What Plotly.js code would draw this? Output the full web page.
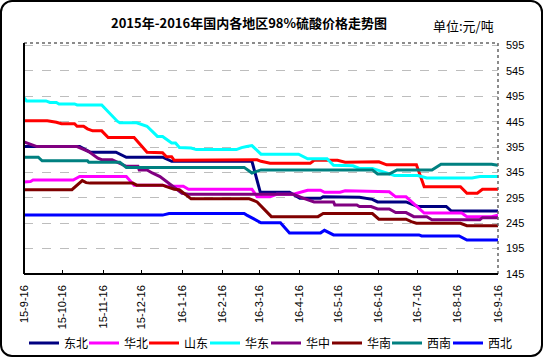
<!DOCTYPE html>
<html>
<head>
<meta charset="utf-8">
<script src="https://cdn.plot.ly/plotly-3.0.1.min.js"></script>
<style>
html,body{margin:0;padding:0;background:#fff;}
#wrap{position:relative;width:543px;height:357px;}
#chart{position:absolute;left:0;top:0;width:543px;height:357px;}
#frame{position:absolute;left:0;top:0;width:543px;height:357px;box-sizing:border-box;border:2px solid #000;border-radius:12px;pointer-events:none;}
</style>
</head>
<body>
<div id="wrap"><div id="chart"></div><div id="frame"></div></div>
<script>
// ---- data ----
const seriesNames = ['东北','华北','山东','华东','华中','华南','西南','西北'];
const seriesColors = ['#000080','#FF00FF','#FF0000','#00FFFF','#800080','#800000','#008080','#0000FF'];

const dongbeiDates = ['2015-09-16','2015-10-29','2015-11-06','2015-11-26','2015-12-04','2016-01-01','2016-01-08','2016-03-10','2016-03-17','2016-03-18','2016-04-08','2016-04-16','2016-05-02','2016-05-04','2016-06-01','2016-06-11','2016-06-15','2016-07-07','2016-07-16','2016-08-07','2016-08-11','2016-09-16'];
const dongbeiValues = [396,396,385,385,375,375,367,367,301,306,306,294,294,297,296,292,287,287,278,278,269,269];

const huabeiDates = ['2015-09-16','2015-09-21','2015-09-23','2015-10-24','2015-10-29','2015-12-04','2015-12-10','2016-01-01','2016-01-04','2016-01-17','2016-01-21','2016-03-10','2016-03-14','2016-03-24','2016-03-29','2016-04-11','2016-04-22','2016-05-02','2016-05-05','2016-05-17','2016-05-21','2016-06-24','2016-06-29','2016-07-07','2016-07-21','2016-08-19','2016-08-23','2016-09-11','2016-09-16'];
const huabeiValues = [326,327,330,330,337,337,320,320,318,318,312,312,297,297,302,302,310,310,306,306,309,307,297,297,265,265,258,258,261];

const shandongDates = ['2015-09-16','2015-10-04','2015-10-11','2015-10-15','2015-10-25','2015-10-27','2015-11-01','2015-11-04','2015-11-08','2015-11-15','2015-11-20','2015-12-10','2015-12-20','2016-01-01','2016-01-04','2016-01-08','2016-01-10','2016-02-12','2016-03-14','2016-03-17','2016-03-24','2016-04-24','2016-04-27','2016-05-15','2016-05-21','2016-06-16','2016-06-22','2016-07-15','2016-07-21','2016-08-18','2016-08-23','2016-08-31','2016-09-04','2016-09-16'];
const shandongValues = [447,447,444,441,441,436,436,431,427,427,414,414,385,384,376,376,369,370,370,367,363,363,369,369,365,366,360,360,317,317,304,304,312,312];

const huadongDates = ['2015-09-16','2015-09-18','2015-10-03','2015-10-06','2015-10-11','2015-10-13','2015-10-25','2015-10-27','2015-11-15','2015-11-27','2015-11-29','2015-12-12','2015-12-20','2015-12-28','2016-01-01','2016-01-08','2016-01-11','2016-01-14','2016-01-23','2016-01-27','2016-02-27','2016-03-02','2016-03-06','2016-03-10','2016-03-17','2016-04-15','2016-04-22','2016-05-07','2016-05-12','2016-05-27','2016-06-01','2016-06-11','2016-06-28','2016-07-16','2016-07-23','2016-08-27','2016-09-02','2016-09-16'];
const huadongValues = [492,486,486,483,483,480,480,478,478,446,443,443,436,416,416,403,403,394,393,390,390,394,396,398,381,381,372,372,359,358,353,353,339,339,334,334,337,337];

const huazhongDates = ['2015-09-16','2015-09-23','2015-09-26','2015-10-27','2015-11-05','2015-11-12','2015-11-15','2015-11-23','2015-12-01','2015-12-04','2015-12-13','2015-12-14','2015-12-20','2015-12-24','2015-12-30','2016-01-04','2016-01-11','2016-01-16','2016-01-21','2016-04-11','2016-04-19','2016-04-27','2016-05-12','2016-05-13','2016-05-30','2016-06-01','2016-06-10','2016-06-15','2016-06-24','2016-06-29','2016-07-07','2016-07-13','2016-07-23','2016-07-27','2016-09-02','2016-09-04','2016-09-16'];
const huazhongValues = [405,398,396,396,386,373,370,370,360,357,357,350,350,344,337,327,314,304,302,302,294,287,287,281,281,278,278,273,273,266,266,258,258,252,252,256,256];

const huananDates = ['2015-09-16','2015-10-23','2015-10-31','2015-11-03','2015-11-06','2015-12-09','2015-12-12','2016-01-01','2016-01-04','2016-01-10','2016-01-14','2016-01-23','2016-03-08','2016-03-14','2016-03-25','2016-04-30','2016-05-04','2016-06-11','2016-06-16','2016-07-07','2016-07-11','2016-07-15','2016-08-18','2016-08-23','2016-09-16'];
const huananValues = [311,311,329,325,324,324,320,320,317,312,311,293,293,287,258,258,264,264,253,253,248,245,245,240,240];

const xinanDates = ['2015-09-16','2015-09-27','2015-09-30','2015-11-04','2015-11-05','2015-11-29','2015-12-04','2016-03-04','2016-03-10','2016-03-17','2016-06-11','2016-06-15','2016-06-24','2016-06-30','2016-07-27','2016-08-03','2016-09-11','2016-09-16'];
const xinanValues = [375,375,368,368,365,365,355,355,344,350,350,342,342,350,350,361,361,359];

const xibeiDates = ['2015-09-16','2016-01-01','2016-01-06','2016-03-04','2016-03-06','2016-03-17','2016-04-01','2016-04-08','2016-05-02','2016-05-05','2016-05-12','2016-07-17','2016-07-19','2016-08-17','2016-08-23','2016-09-16'];
const xibeiValues = [261,261,264,264,261,246,246,226,226,231,222,222,220,220,212,212];

const xTickDates = ['2015-09-16','2015-10-16','2015-11-16','2015-12-16','2016-01-16','2016-02-16','2016-03-16','2016-04-16','2016-05-16','2016-06-16','2016-07-16','2016-08-16','2016-09-16'];
const xTickLabels = ['15-9-16','15-10-16','15-11-16','15-12-16','16-1-16','16-2-16','16-3-16','16-4-16','16-5-16','16-6-16','16-7-16','16-8-16','16-9-16'];
const yTickValues = [145,195,245,295,345,395,445,495,545,595];

const titleText = '2015年-2016年国内各地区98%硫酸价格走势图';
const unitText = '单位:元/吨';

// ---- build ----
const allDates = [dongbeiDates,huabeiDates,shandongDates,huadongDates,huazhongDates,huananDates,xinanDates,xibeiDates];
const allValues = [dongbeiValues,huabeiValues,shandongValues,huadongValues,huazhongValues,huananValues,xinanValues,xibeiValues];
const legendIds = ['legend','legend2','legend3','legend4','legend5','legend6','legend7','legend8'];
const traces = seriesNames.map((n,i)=>({
  type:'scatter', mode:'lines', name:n,
  x: allDates[i], y: allValues[i],
  line:{color:seriesColors[i], width:3},
  legend: legendIds[i],
  hoverinfo:'skip'
}));

const cjk = '"Noto Sans CJK SC", "Liberation Sans", sans-serif';
const layout = {
  width:543, height:357,
  paper_bgcolor:'#fff', plot_bgcolor:'#fff',
  margin:{l:24, r:45, t:43, b:83},
  showlegend:true,
  title:{text:titleText, x:249/543, xanchor:'center', y:1-23/357, yanchor:'middle',
         font:{family:cjk, size:13, color:'#000', weight:'bold'}},
  xaxis:{type:'date', range:['2015-09-16','2016-09-16'], tickvals:xTickDates, ticktext:xTickLabels,
         tickangle:-90, ticks:'inside', ticklen:4, tickcolor:'#000', showgrid:false, zeroline:false,
         showline:false, ticklabelstandoff:8,
         tickfont:{family:'"Liberation Sans", Arial, sans-serif', size:11, color:'#000'}},
  yaxis:{range:[145,600], side:'right', tickvals:yTickValues, ticks:'', showline:false, zeroline:false,
         showgrid:true, gridcolor:'#bdbdbd', griddash:'dash', gridwidth:1, ticklabelstandoff:7,
         tickfont:{family:'"Liberation Sans", Arial, sans-serif', size:11, color:'#000'}},
  annotations:[{text:unitText, xref:'paper', yref:'paper', x:(463-24)/474, y:(274-26)/231, xanchor:'center', yanchor:'middle',
                showarrow:false, font:{family:cjk, size:13, color:'#000'}}],
  shapes:[
    {type:'line', xref:'paper', yref:'paper', x0:0, x1:1, y0:1, y1:1, line:{color:'#666', width:1.5, dash:'dot'}},
    {type:'line', xref:'paper', yref:'paper', x0:1, x1:1, y0:0, y1:1, line:{color:'#666', width:1.5, dash:'dot'}},
    {type:'line', xref:'paper', yref:'paper', x0:0, x1:1, y0:0, y1:0, line:{color:'#000', width:2}},
    {type:'line', xref:'paper', yref:'paper', x0:0, x1:0, y0:0, y1:1, line:{color:'#000', width:2}}
  ]
};
// one small legend per series, spaced like the reference
const legendLeft = [24, 84, 144, 205, 266, 327, 387, 448];
legendIds.forEach((id,i)=>{
  layout[id] = {orientation:'h', xref:'container', yref:'container', x:legendLeft[i]/543, xanchor:'left',
                y:1-343/357, yanchor:'middle', itemwidth:30,
                font:{family:cjk, size:12, color:'#000'}, bgcolor:'rgba(0,0,0,0)'};
});
Plotly.newPlot('chart', traces, layout, {staticPlot:true, displayModeBar:false});
</script>
</body>
</html>
